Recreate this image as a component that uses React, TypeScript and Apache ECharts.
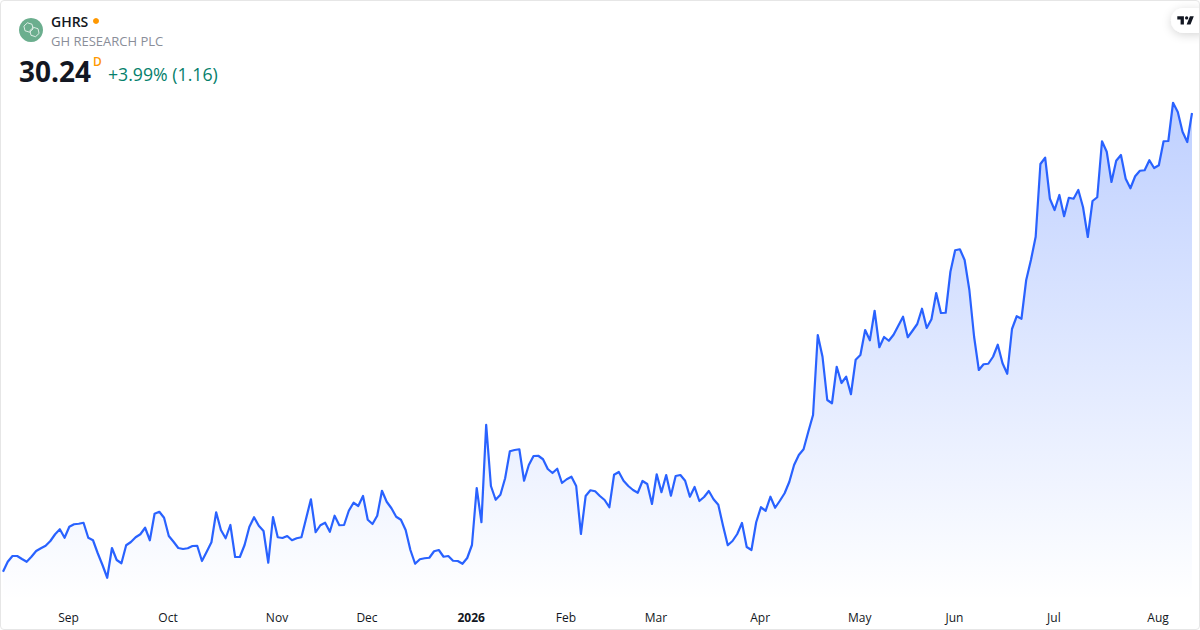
import React, { useEffect, useRef } from "react";
import * as echarts from "echarts";

const prices: number[] = [
  11.89, 12.29, 12.52, 12.52, 12.40, 12.29, 12.49, 12.72, 12.83, 12.93,
  13.12, 13.39, 13.59, 13.25, 13.69, 13.79, 13.81, 13.85, 13.25, 13.15,
  12.63, 12.16, 11.65, 12.84, 12.36, 12.23, 12.95, 13.08, 13.27, 13.39,
  13.65, 13.15, 14.21, 14.29, 14.05, 13.32, 13.09, 12.84, 12.80, 12.83,
  12.92, 12.93, 12.32, 12.69, 13.07, 14.27, 13.56, 13.23, 13.76, 12.48,
  12.48, 12.96, 13.68, 14.07, 13.73, 13.52, 12.25, 14.08, 13.27, 13.24,
  13.32, 13.15, 13.23,
  13.27, 14.03, 14.79, 13.47, 13.75, 13.85, 13.49, 14.13, 13.75, 13.76,
  14.33, 14.65, 14.52, 14.92, 13.97, 13.80, 14.13, 15.13, 14.69, 14.43,
  14.09, 13.97, 13.56, 12.76, 12.21, 12.39, 12.43, 12.45, 12.71, 12.76,
  12.49, 12.52, 12.33, 12.32, 12.21, 12.44, 12.96, 15.24, 13.87, 17.77,
  15.32, 14.77, 14.97, 15.63, 16.71, 16.76, 16.79, 15.53, 16.16, 16.52,
  16.53, 16.39, 16.00, 15.84, 16.01, 15.44, 15.59, 15.69, 15.32, 13.40,
  14.92, 15.15, 15.11,
  14.92, 14.76, 14.47, 15.77, 15.88, 15.53, 15.32, 15.16, 15.05, 15.52,
  15.40, 14.60, 15.79, 15.07, 15.76, 14.93, 15.72, 15.76, 15.53, 14.89,
  15.28, 14.72, 14.88, 15.12, 14.79, 14.57, 13.73, 12.95, 13.12, 13.40,
  13.84, 12.88, 12.76, 13.87, 14.47, 14.33, 14.89, 14.45, 14.73, 15.03,
  15.49, 16.16, 16.56, 16.79, 17.49, 18.16,
  21.36, 20.49, 18.76, 18.63, 20.09, 19.44, 19.69, 18.99, 20.37, 20.56,
  21.56, 21.15, 22.33, 20.87, 21.28, 21.13, 21.37, 21.73, 22.09, 21.27,
  21.53, 21.80, 22.41, 21.64, 21.99, 23.04, 22.24, 22.25, 23.89, 24.75,
  24.79, 24.36, 23.16, 21.29, 19.96, 20.19, 20.21, 20.49, 20.97, 20.23,
  19.81, 21.60, 22.11, 22.01, 23.56,
  24.36, 25.29, 28.20, 28.45, 26.81, 26.36, 26.96, 26.11, 26.85, 26.81,
  27.16, 26.47, 25.28, 26.72, 26.87, 29.11, 28.69, 27.48, 28.33, 28.56,
  27.61, 27.23, 27.71, 27.93, 27.95, 28.35, 28.04, 28.15, 29.11, 29.12,
  30.65, 30.28, 29.49, 29.08, 30.24,
];

const tickPositions: number[] = [14, 35, 58, 77, 99, 119, 138, 160, 181, 201, 222, 244];
const tickLabels: string[] = ["Sep", "Oct", "Nov", "Dec", "2026", "Feb", "Mar", "Apr", "May", "Jun", "Jul", "Aug"];
const categories: string[] = prices.map((_, i) => {
  const k = tickPositions.indexOf(i);
  return k >= 0 ? tickLabels[k] : "";
});

const FONT = '"Open Sans", "Noto Sans", sans-serif';
const TV_LOGO = "M14 6H2v6h6v9h6V6Zm12 15h-7l6-15h7l-6 15Zm-7-9a3 3 0 1 0 0-6 3 3 0 0 0 0 6Z";
echarts.graphic.registerShape("tvlogo", echarts.graphic.extendPath(TV_LOGO, {}));

function hexagon(cx: number, cy: number, r: number, rot: number): number[][] {
  const pts: number[][] = [];
  for (let i = 0; i < 6; i++) {
    const a = rot + (i * Math.PI) / 3;
    pts.push([cx + r * Math.cos(a), cy + r * Math.sin(a)]);
  }
  return pts;
}

export default function App() {
  const ref = useRef<HTMLDivElement>(null);
  useEffect(() => {
    document.body.style.margin = "0";
    const chart = echarts.init(ref.current!, undefined, { renderer: "svg" });
    chart.setOption({
      animation: false,
      backgroundColor: "#ffffff",
      grid: { left: 2.67, right: 8, top: 0, bottom: 30, containLabel: false },
      xAxis: {
        type: "category",
        data: categories,
        boundaryGap: false,
        axisLine: { show: false },
        axisTick: { show: false },
        splitLine: { show: false },
        axisLabel: {
          interval: 0,
          margin: 10,
          fontFamily: FONT,
          fontSize: 12,
          color: "#131722",
          lineHeight: 14,
          padding: [0, 1.5, 0, 0],
          formatter: (v: string) => (v === "2026" ? "{b|2026}" : v),
          rich: { b: { fontFamily: FONT, fontSize: 12, fontWeight: "bold", color: "#131722" } },
        },
      },
      yAxis: { type: "value", min: 10.76, max: 34.76, show: false },
      series: [
        {
          type: "line",
          data: prices,
          showSymbol: false,
          symbol: "none",
          smooth: false,
          clip: false,
          lineStyle: { color: "#2962FF", width: 2.2, join: "round" },
          areaStyle: {
            opacity: 1,
            color: new echarts.graphic.LinearGradient(0, 0, 0, 1, [
              { offset: 0, color: "rgba(41,98,255,0.3)" },
              { offset: 1, color: "rgba(41,98,255,0)" },
            ]),
          },
        },
      ],
      graphic: [
        { type: "circle", shape: { cx: 31, cy: 30, r: 12 }, style: { fill: "#6BAE8E" } },
        { type: "polygon", shape: { points: hexagon(28.5, 27.5, 4.8, 0.3) }, style: { fill: "none", stroke: "#ffffff", lineWidth: 0.9, opacity: 0.85 } },
        { type: "polygon", shape: { points: hexagon(34.5, 32, 4.8, 0.3) }, style: { fill: "none", stroke: "#ffffff", lineWidth: 0.9, opacity: 0.85 } },
        { type: "text", x: 51, y: 21, style: { text: "GHRS", font: `600 14px ${FONT}`, fill: "#131722", textVerticalAlign: "middle" } },
        { type: "circle", shape: { cx: 96, cy: 21, r: 3 }, style: { fill: "#FF9800" } },
        { type: "text", x: 51, y: 41, style: { text: "GH RESEARCH PLC", font: `13px ${FONT}`, fill: "#8A8E99", textVerticalAlign: "middle" } },
        { type: "text", x: 19, y: 71, style: { text: "30.24", font: `700 28px ${FONT}`, fill: "#131722", textVerticalAlign: "middle" } },
        { type: "text", x: 93, y: 61, style: { text: "D", font: `600 12px ${FONT}`, fill: "#FF9800", textVerticalAlign: "middle" } },
        { type: "text", x: 108, y: 74, style: { text: "+3.99% (1.16)", font: `17.7px ${FONT}`, fill: "#057F6C", textVerticalAlign: "middle" } },
        {
          type: "rect",
          shape: { x: 1171, y: 8, width: 40, height: 25, r: 12.5 },
          style: { fill: "#ffffff", shadowBlur: 10, shadowColor: "rgba(0,0,0,0.16)", shadowOffsetY: 2 },
        },
        { type: "tvlogo", x: 1176.2, y: 13, scaleX: 0.55, scaleY: 0.55, style: { fill: "#131722" } },
      ],
    });
    return () => chart.dispose();
  }, []);
  return (
    <div
      style={{
        position: "absolute",
        left: 0,
        top: 0,
        width: 1200,
        height: 630,
        overflow: "hidden",
        background: "#fff",
      }}
    >
      <div ref={ref} style={{ width: 1200, height: 630 }} />
      <div
        style={{
          position: "absolute",
          inset: 0,
          boxSizing: "border-box",
          border: "1px solid #E6E6E6",
          borderRadius: 4,
          pointerEvents: "none",
        }}
      />
    </div>
  );
}
